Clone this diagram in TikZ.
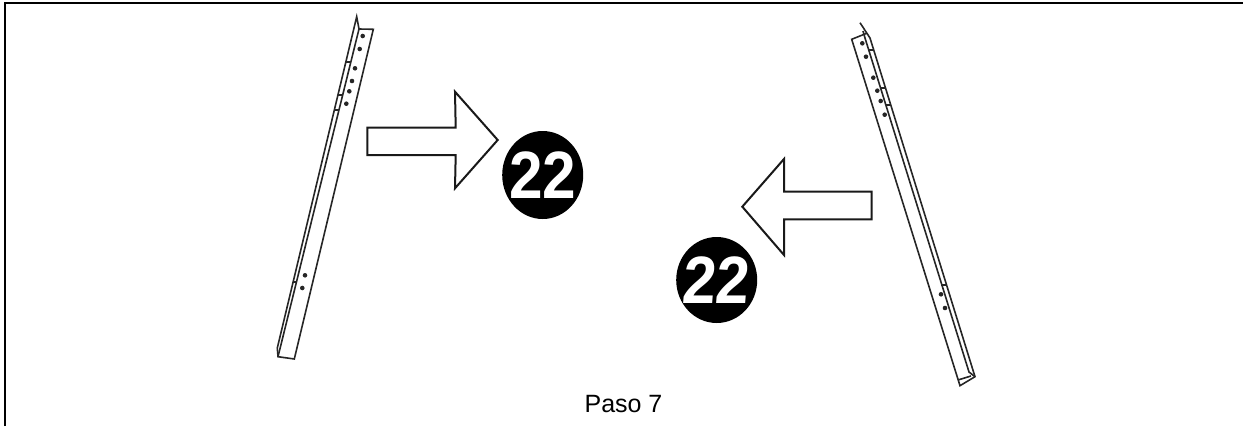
\documentclass[tikz,border=0pt]{standalone}
\usepackage{graphicx}
\usepackage{fontspec}
\setmainfont{Liberation Sans}
\usetikzlibrary{shapes.geometric}

\begin{document}
\begin{tikzpicture}[x=1pt,y=-1pt,line join=miter,
                    rail/.style={draw=black!85,line width=1.6pt},
                    hole/.style={fill=black!85},
                    bigarrow/.style={draw=black!90,line width=2pt,fill=white},
                    badge/.style={ellipse,fill=black,inner sep=0pt,
                      minimum width=81pt,minimum height=88pt},
                    digits/.style={text=white,inner sep=0pt,
                      font=\fontsize{67}{67}\selectfont\bfseries}]
  \useasboundingbox (0,0) rectangle (1243,426);

  % frame
  \draw[line width=2pt] (5,426) -- (5,3) -- (1243,3);

  % left rail
  \draw[rail] (356.7,16.7) -- (359,29) -- (373.3,29.3) -- (294.3,359) -- (278,356.7) -- (277.3,348) -- cycle;
  \draw[rail] (359,29) -- (278,356.7);
  \foreach \xa/\xb/\y in {345.8/350.9/62,337.9/342.8/95,334.3/339/110,293/296.5/282}
    \draw[rail] (\xa,\y) -- (\xb,\y);
  \foreach \x/\y in {362.7/36,359.7/49,355/68.3,352/81,349.3/91.3,346.3/103.7,305/275.3,302.3/288}
    \fill[hole] (\x,\y) circle (2.3pt);

  % right rail
  \draw[rail] (860,22.7) -- (870,38) -- (975,376.7) -- (960,385.7) -- (851.7,39.3) -- (866.7,33.3);
  \draw[rail] (863,31) -- (865,38) -- (969,372) -- (975,376.7);
  \draw[rail] (958,380) -- (971,376);
  \foreach \xa/\xb/\y in {868.7/873.7/50,880.4/885.5/88,885.6/890.8/105,940.8/946.6/285}
    \draw[rail] (\xa,\y) -- (\xb,\y);
  \foreach \x/\y in {862.3/43.3,866/56.7,873.3/77.7,877.3/90.7,880.7/101,884.7/114.7,941/294.3,945/308}
    \fill[hole] (\x,\y) circle (2.3pt);

  % arrows
  \draw[bigarrow] (367.3,127.7) -- (455.7,127.7) -- (455,91.7) -- (497.7,140) -- (455,188.3) -- (455.7,155) -- (367.3,155) -- cycle;
  \draw[bigarrow] (871.7,191.7) -- (784,191.7) -- (784,159) -- (742.3,206.7) -- (784,255) -- (784,219.3) -- (871.7,219.3) -- cycle;

  % badges
  \node[badge] (N1) at (542.7,175) {};
  \node[digits] (T1) at (N1) {\scalebox{.9}[1]{22}};
  \node[badge,minimum height=86pt] (N2) at (716.7,280) {};
  \node[digits,xslant=.08,transform shape] (T2) at (N2) {\scalebox{.9}[1]{22}};

  \node[anchor=base,inner sep=0pt,font=\fontsize{25}{25}\selectfont] (L) at (623.5,412.3) {Paso 7};
\end{tikzpicture}
\end{document}
